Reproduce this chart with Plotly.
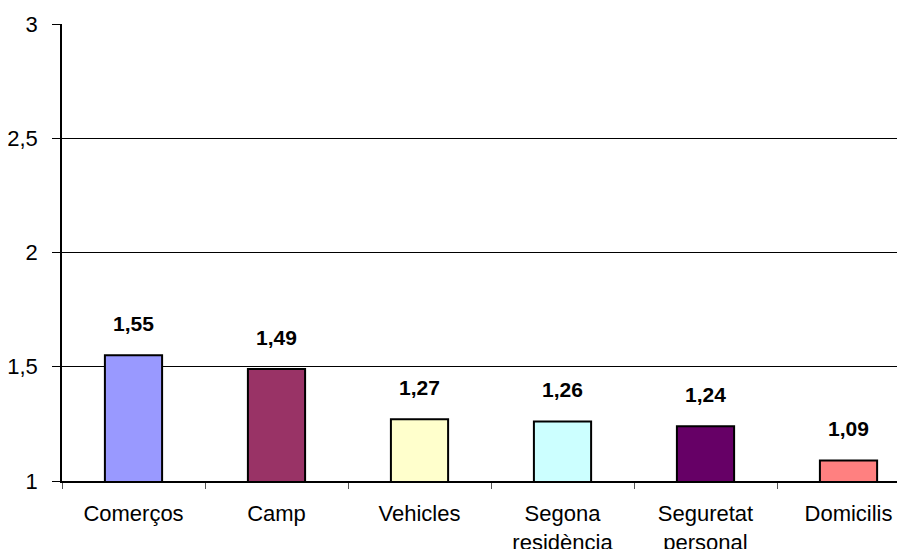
import plotly.graph_objects as go

categories = ["Comerços", "Camp", "Vehicles", "Segona<br>residència", "Seguretat<br>personal", "Domicilis"]
values = [1.55, 1.49, 1.27, 1.26, 1.24, 1.09]
colors = ["#9999FF", "#993366", "#FFFFCC", "#CCFFFF", "#660066", "#FF8080"]
y_ticks = [1, 1.5, 2, 2.5, 3]

fig = go.Figure()
fig.add_trace(go.Bar(
    x=categories, y=values, base=0,
    marker=dict(color=colors, line=dict(color="black", width=2)),
    width=0.4, showlegend=False, hoverinfo="x+y",
))

for c, v in zip(categories, values):
    fig.add_annotation(
        x=c, y=v, yshift=32, text="<b>" + f"{v:.2f}".replace(".", ",") + "</b>",
        showarrow=False, font=dict(family="Arial, Liberation Sans", size=21, color="black"),
    )

fig.update_layout(
    width=897, height=541,
    margin=dict(l=54, r=0, t=16, b=68, autoexpand=False),
    paper_bgcolor="white", plot_bgcolor="white",
    separators=",.",
    font=dict(family="Arial, Liberation Sans", size=22, color="black"),
)
fig.update_xaxes(
    range=[-0.5, 5.395], showline=True, linecolor="black", linewidth=1.5,
    ticks="outside", tickson="boundaries", ticklen=6, tickcolor="#555", tickwidth=1,
    showgrid=False, tickfont=dict(size=22), ticklabelstandoff=12, automargin=False,
)
fig.update_yaxes(
    range=[1, 3], tickvals=y_ticks, showline=True, linecolor="black", linewidth=1.5,
    ticks="outside", ticklen=8, tickcolor="black", tickwidth=1,
    showgrid=True, gridcolor="black", gridwidth=1, zeroline=False,
    tickfont=dict(size=22), ticklabelstandoff=10, automargin=False,
)

fig.write_html("out.html")
